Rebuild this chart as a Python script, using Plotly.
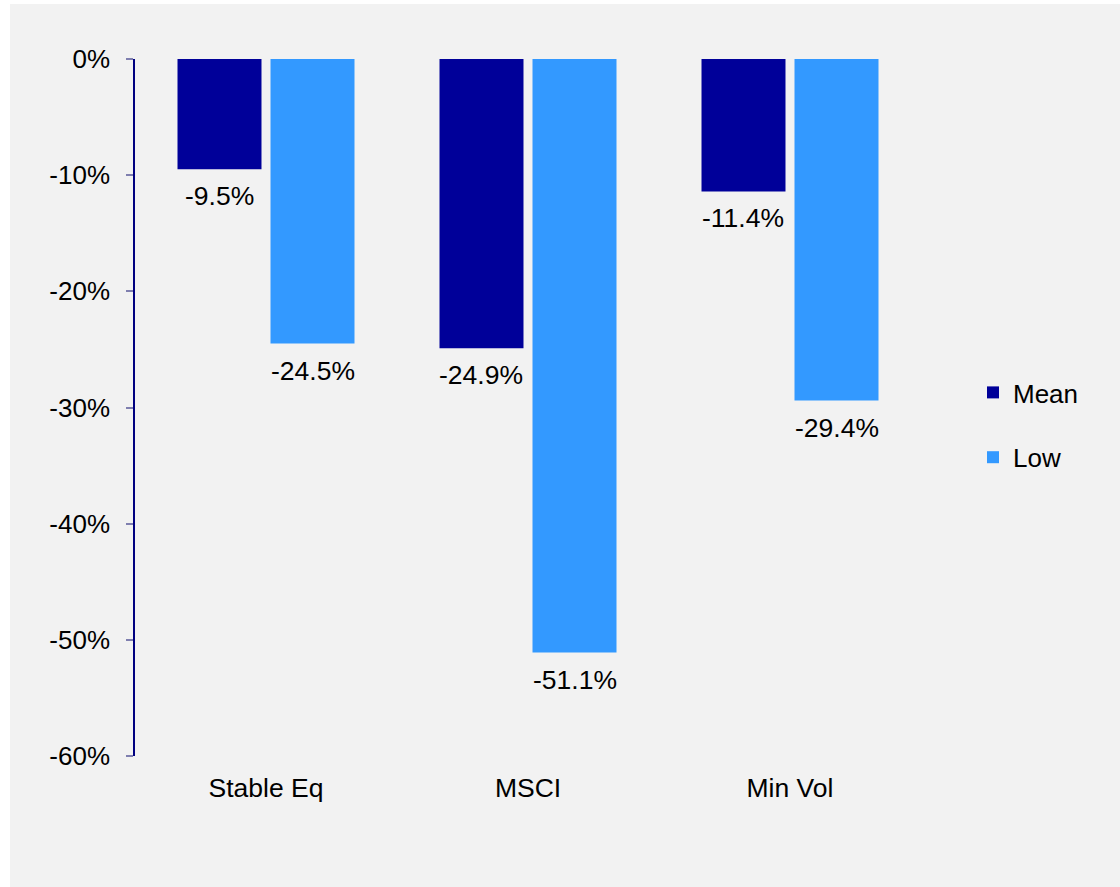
import plotly.graph_objects as go

categories = ["Stable Eq", "MSCI", "Min Vol"]
mean_vals = [-9.5, -24.9, -11.4]
low_vals = [-24.5, -51.1, -29.4]
tick_vals = [0, -10, -20, -30, -40, -50, -60]
tick_text = ["0%", "-10%", "-20%", "-30%", "-40%", "-50%", "-60%"]

W, H = 1120, 887
L, R, T, B = 135, 199, 59, 131
pw, ph = W - L - R, H - T - B

MEAN_C = "#000099"
LOW_C = "#3399FF"
FONT = "Arial, Liberation Sans, sans-serif"

fig = go.Figure()
fig.add_trace(go.Bar(x=categories, y=mean_vals, name="Mean", marker_color=MEAN_C,
                     marker_line_width=0, legendgroup="a"))
fig.add_trace(go.Bar(x=categories, y=low_vals, name="Low", marker_color=LOW_C,
                     marker_line_width=0, legendgroup="b"))

annotations = []
slot = pw / 3 * (1 - 0.29) / 2
for vals, sh in ((mean_vals, -slot / 2), (low_vals, slot / 2)):
    for c, v in zip(categories, vals):
        annotations.append(dict(x=c, y=v, xref="x", yref="y", text=f"{v:.1f}%",
                                showarrow=False, xshift=sh, yanchor="top", yshift=-10,
                                font=dict(size=26.5, color="#000000", family=FONT)))

def px(xp):
    return (xp - L) / pw

def py(yp):
    return (H - B - yp) / ph

shapes = [
    dict(type="rect", xref="paper", yref="paper", x0=px(-5), x1=px(10), y0=py(H + 5), y1=py(-5),
         fillcolor="white", line_width=0, layer="below"),
    dict(type="rect", xref="paper", yref="paper", x0=px(-5), x1=px(W + 5), y0=py(4), y1=py(-5),
         fillcolor="white", line_width=0, layer="below"),
]

fig.update_layout(
    width=W, height=H,
    margin=dict(l=L, r=R, t=T, b=B, pad=0),
    paper_bgcolor="#F2F2F2", plot_bgcolor="#F2F2F2",
    font=dict(family=FONT, size=26, color="#000000"),
    barmode="group", bargap=0.29, bargroupgap=0.097,
    showlegend=True,
    legend=dict(x=px(973), y=py(425), xanchor="left", yanchor="middle",
                bgcolor="rgba(0,0,0,0)", font=dict(size=26, color="#000000", family=FONT),
                tracegroupgap=28, traceorder="grouped", itemwidth=30),
    annotations=annotations,
    shapes=shapes,
    xaxis=dict(type="category", categoryorder="array", categoryarray=categories,
               showline=False, ticks="", showgrid=False, zeroline=False,
               tickfont=dict(size=26.5, color="#000000"), ticklabelstandoff=13,
               range=[-0.5, 2.5]),
    xaxis2=dict(overlaying="x", side="top", anchor="y", range=[-0.5, 2.5],
                showline=True, linecolor="#7F7FAF", linewidth=2,
                ticks="inside", tickvals=[0.5, 1.5, 2.5], ticklen=8, tickwidth=2,
                tickcolor="#7F7FAF", showticklabels=False, showgrid=False, zeroline=False),
    yaxis=dict(range=[-60, 0], tickvals=tick_vals, ticktext=tick_text,
               showline=True, linecolor="#000080", linewidth=1.5,
               ticks="outside", ticklen=7, tickwidth=1.5, tickcolor="#7F7FAF",
               showgrid=False, zeroline=False, ticklabelstandoff=11,
               tickfont=dict(size=26, color="#000000")),
)

fig.write_html("out.html", config={"displayModeBar": False},
               post_script="document.body.style.margin='0';document.body.style.padding='0';"
                           "document.documentElement.style.overflow='hidden';")
